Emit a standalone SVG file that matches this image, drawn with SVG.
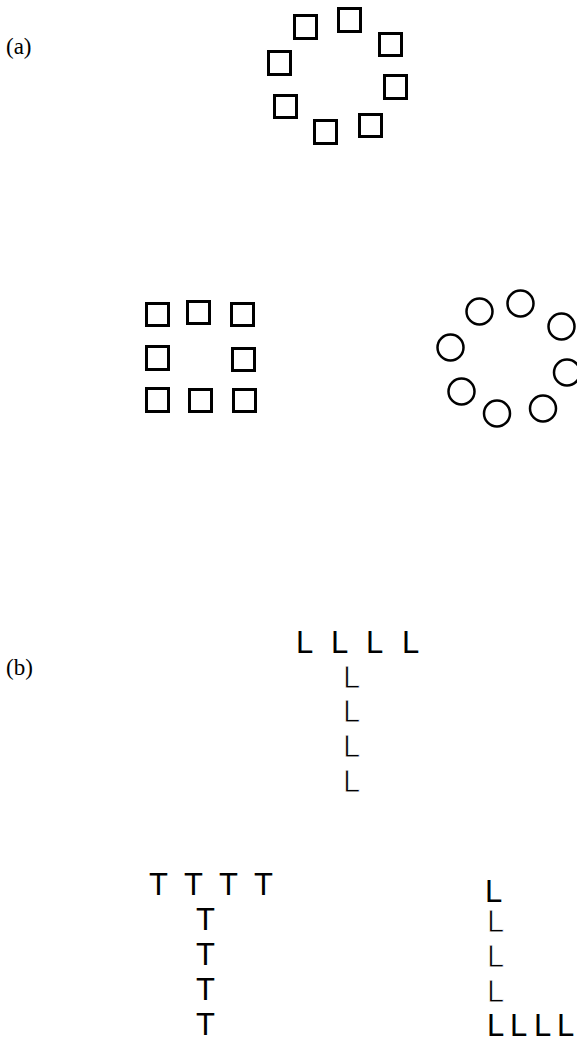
<svg xmlns="http://www.w3.org/2000/svg" width="577" height="1039" viewBox="0 0 577 1039">
  <style>
    .label { font-family: "Liberation Serif", "Times New Roman", serif; font-size: 23px; fill: #000; }
    .sq { fill: none; stroke: #000; stroke-width: 3; }
    .ring { fill: none; stroke: #000; stroke-width: 2.5; }
    .glyph { font-family: "Liberation Sans", Arial, sans-serif; font-size: 31px; fill: #000; }
    .thin { stroke: #fff; stroke-width: 0.8; }
  </style>
  <rect width="577" height="1039" fill="#fff"/>

  <!-- panel labels -->
  <text class="label" x="6" y="54">(a)</text>
  <text class="label" x="6" y="675">(b)</text>

  <!-- (a) ring of squares -->
  <g id="square-ring">
    <rect class="sq" x="338.5" y="8.5" width="22" height="23"/>
    <rect class="sq" x="294.5" y="15.5" width="22" height="23"/>
    <rect class="sq" x="379.5" y="33.5" width="22" height="22"/>
    <rect class="sq" x="268.5" y="51.5" width="22" height="23"/>
    <rect class="sq" x="384.5" y="75.5" width="22" height="23"/>
    <rect class="sq" x="274.5" y="95.5" width="22" height="22"/>
    <rect class="sq" x="314.5" y="120.5" width="22" height="23"/>
    <rect class="sq" x="359.5" y="114.5" width="22" height="22"/>
  </g>

  <!-- (a) square arrangement of squares -->
  <g id="square-grid">
    <rect class="sq" x="146.5" y="303.5" width="22" height="22"/>
    <rect class="sq" x="187.5" y="301.5" width="22" height="22"/>
    <rect class="sq" x="231.5" y="303.5" width="22" height="22"/>
    <rect class="sq" x="146.5" y="346.5" width="22" height="23"/>
    <rect class="sq" x="232.5" y="348.5" width="22" height="22"/>
    <rect class="sq" x="146.5" y="388.5" width="22" height="23"/>
    <rect class="sq" x="189.5" y="389.5" width="22" height="22"/>
    <rect class="sq" x="233.5" y="389.5" width="22" height="22"/>
  </g>

  <!-- (a) ring of circles -->
  <g id="circle-ring">
    <circle class="ring" cx="520.5" cy="303.5" r="13"/>
    <circle class="ring" cx="479.5" cy="311.5" r="13"/>
    <circle class="ring" cx="561.5" cy="326.5" r="13"/>
    <circle class="ring" cx="450.5" cy="347.5" r="13"/>
    <circle class="ring" cx="567" cy="372.5" r="13"/>
    <circle class="ring" cx="461.5" cy="391.5" r="13"/>
    <circle class="ring" cx="497" cy="413.5" r="13"/>
    <circle class="ring" cx="543" cy="408.5" r="13"/>
  </g>

  <!-- (b) T-shaped arrangement of L -->
  <g id="l-tee">
    <text class="glyph" x="296" y="653">L</text>
    <text class="glyph" x="331" y="653">L</text>
    <text class="glyph" x="366" y="653">L</text>
    <text class="glyph" x="402" y="653">L</text>
    <text class="glyph thin" x="343" y="688">L</text>
    <text class="glyph thin" x="343" y="722">L</text>
    <text class="glyph thin" x="343" y="757">L</text>
    <text class="glyph thin" x="343" y="792">L</text>
  </g>

  <!-- (b) T-shaped arrangement of T -->
  <g id="t-tee">
    <text class="glyph" x="149" y="895">T</text>
    <text class="glyph" x="184" y="895">T</text>
    <text class="glyph" x="219" y="895">T</text>
    <text class="glyph" x="254" y="895">T</text>
    <text class="glyph" x="196" y="930">T</text>
    <text class="glyph" x="196" y="965">T</text>
    <text class="glyph" x="196" y="1000">T</text>
    <text class="glyph" x="196" y="1035">T</text>
  </g>

  <!-- (b) L-shaped arrangement of L -->
  <g id="l-ell">
    <text class="glyph" x="485" y="902">L</text>
    <text class="glyph thin" x="487" y="932">L</text>
    <text class="glyph thin" x="487" y="967">L</text>
    <text class="glyph thin" x="487" y="1002">L</text>
    <text class="glyph" x="487" y="1036">L</text>
    <text class="glyph" x="510" y="1036">L</text>
    <text class="glyph" x="534" y="1036">L</text>
    <text class="glyph" x="557" y="1036">L</text>
  </g>
</svg>
